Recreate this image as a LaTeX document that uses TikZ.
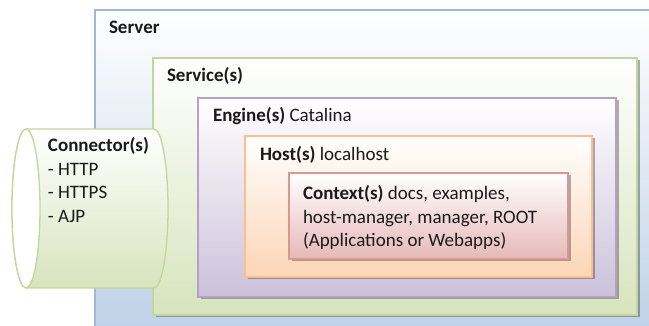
\documentclass[tikz,border=0pt]{standalone}
\usepackage{fontspec}
\setmainfont{Carlito}
\usetikzlibrary{shadows}

\definecolor{blueline}{HTML}{9DB8DC}
\definecolor{bluefill}{HTML}{B9CDE5}
\definecolor{greenline}{HTML}{C3D69B}
\definecolor{greenfill}{HTML}{D7E4BD}
\definecolor{purpleline}{HTML}{B3A2C7}
\definecolor{purplefill}{HTML}{CCC1DA}
\definecolor{orangeline}{HTML}{FAC090}
\definecolor{orangefill}{HTML}{FCD5B5}
\definecolor{redline}{HTML}{D99694}
\definecolor{redfill}{HTML}{E6B9B8}
\definecolor{txt}{HTML}{1A1A1A}

\tikzset{
  layer/.style={draw=#1line, line width=1.3pt, top color=white, bottom color=#1fill,
    anchor=north west, inner sep=0pt, outer sep=0pt, rectangle},
  shadowed/.style={drop shadow={shadow xshift=2.5pt, shadow yshift=-2.5pt,
    fill=black, opacity=0.3}},
  lbl/.style={anchor=base west, inner sep=0pt, outer sep=0pt, text=txt,
    font=\fontsize{19}{23.5}\selectfont},
}

\begin{document}
\begin{tikzpicture}[x=1pt,y=-1pt]
\useasboundingbox (0,0) rectangle (649,326);
\clip (0,0) rectangle (649,326);

% nested containers
\node[layer=blue, minimum width=585pt, minimum height=350pt] (server) at (95,10) {};
\node[layer=green, shadowed, minimum width=484pt, minimum height=257pt] (service) at (153,58) {};
\node[layer=purple, shadowed, minimum width=418pt, minimum height=199pt] (engine) at (198,98) {};
\node[layer=orange, shadowed, minimum width=347pt, minimum height=141pt] (host) at (245,136) {};
\node[layer=red, shadowed, minimum width=279pt, minimum height=86pt] (context) at (289,173) {};

% titles
\node[lbl] (serverT) at (109,34) {\textbf{Server}};
\node[lbl] (serviceT) at (167,82) {\textbf{Service(s)}};
\node[lbl] (engineT) at (213,122) {\textbf{Engine(s)} Catalina};
\node[lbl] (hostT) at (260,161) {\textbf{Host(s)} localhost};
\node[lbl] (ctxA) at (303,200) {\textbf{Context(s)} docs, examples,};
\node[lbl] (ctxB) at (303,223.5) {host-manager, manager, ROOT};
\node[lbl] (ctxC) at (303,247) {(Applications or Webapps)};

% connector cylinder
\draw[draw=greenline, line width=1.3pt, top color=white, bottom color=greenfill]
  (26,129) -- (154,129) arc[start angle=-90, end angle=90, x radius=14, y radius=79.5]
  -- (26,288) arc[start angle=90, end angle=270, x radius=14, y radius=79.5] -- cycle;
\draw[draw=greenline, line width=1.3pt, fill=white]
  (26,208.5) ellipse[x radius=14, y radius=79.5];
\coordinate (conn) at (90,208.5);

\node[lbl] (connT) at (48,152) {\textbf{Connector(s)}};
\node[lbl] (connA) at (48,175.5) {- HTTP};
\node[lbl] (connB) at (48,199) {- HTTPS};
\node[lbl] (connC) at (48,222.5) {- AJP};
\end{tikzpicture}
\end{document}
